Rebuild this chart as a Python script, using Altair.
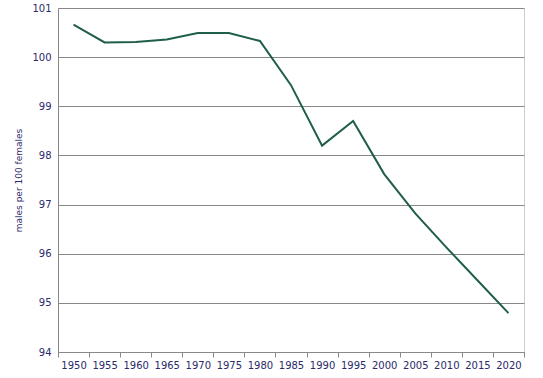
import altair as alt
import pandas as pd

years = ["1950", "1955", "1960", "1965", "1970", "1975", "1980", "1985",
         "1990", "1995", "2000", "2005", "2010", "2015", "2020"]
ratio = [100.66, 100.30, 100.31, 100.36, 100.49, 100.49, 100.33, 99.43,
         98.20, 98.70, 97.62, 96.82, 96.13, 95.46, 94.79]
y_ticks = [94, 95, 96, 97, 98, 99, 100, 101]

df = pd.DataFrame({"year": years, "ratio": ratio})

font = "DejaVu Sans"
label_color = "#2a2a6a"

chart = alt.Chart(df).mark_line(color="#1f5e48", strokeWidth=2).encode(
    x=alt.X("year:O", sort=years,
            scale=alt.Scale(type="band", paddingInner=0, paddingOuter=0),
            axis=alt.Axis(title=None, labelAngle=0, tickBand="extent",
                          tickSize=5, tickColor="#888888", domainColor="#888888",
                          labelFont=font, labelFontSize=10, labelColor=label_color,
                          labelPadding=3, grid=False)),
    y=alt.Y("ratio:Q", scale=alt.Scale(domain=[94, 101], nice=False, zero=False),
            axis=alt.Axis(title="males per 100 females", values=y_ticks, format="d",
                          tickSize=0, labelPadding=7, domainColor="#888888",
                          gridColor="#888888", gridOpacity=1, gridWidth=1,
                          labelFont=font, labelFontSize=10, labelColor=label_color,
                          titleFont=font, titleFontSize=9, titleFontWeight="normal",
                          titleColor=label_color, titlePadding=8)),
).properties(
    width=466, height=344,
    autosize=alt.AutoSizeParams(type="none"),
    padding={"left": 58, "top": 8, "right": 19, "bottom": 26},
).configure_view(stroke="#cccccc", strokeWidth=1)

chart.save("out.html", embed_options={"renderer": "svg", "actions": False})
